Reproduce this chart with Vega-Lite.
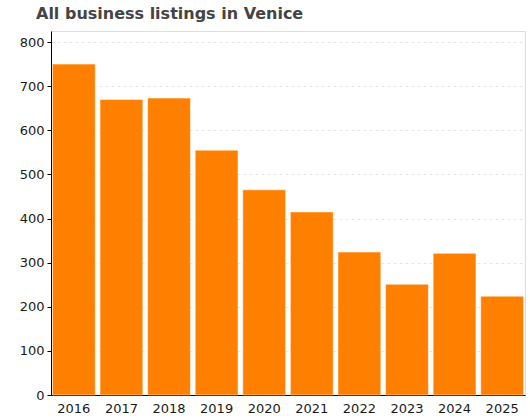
{
  "$schema": "https://vega.github.io/schema/vega-lite/v6.json",
  "autosize": "none",
  "width": 474,
  "height": 364,
  "padding": {"left": 51, "top": 31, "right": 5, "bottom": 25},
  "background": "white",
  "title": {
    "text": "All business listings in Venice",
    "anchor": "start",
    "frame": "group",
    "dx": -15,
    "offset": 9,
    "font": "DejaVu Sans",
    "fontSize": 16,
    "fontWeight": "bold",
    "color": "#444444"
  },
  "config": {
    "view": {"stroke": "#dddddd", "strokeWidth": 1},
    "axis": {
      "labelFont": "DejaVu Sans",
      "labelFontSize": 13,
      "labelColor": "#1a1a1a",
      "domainColor": "#000000",
      "tickColor": "#000000",
      "title": null
    }
  },
  "data": {
    "values": [
      {"year": "2016", "count": 750},
      {"year": "2017", "count": 670},
      {"year": "2018", "count": 673},
      {"year": "2019", "count": 555},
      {"year": "2020", "count": 465},
      {"year": "2021", "count": 415},
      {"year": "2022", "count": 324},
      {"year": "2023", "count": 251},
      {"year": "2024", "count": 321},
      {"year": "2025", "count": 224}
    ]
  },
  "mark": {"type": "bar", "color": "#ff8000", "stroke": "#ffffff", "strokeOpacity": 0.5, "strokeWidth": 1},
  "encoding": {
    "x": {
      "field": "year",
      "type": "ordinal",
      "scale": {"paddingInner": 0.1, "paddingOuter": 0.03},
      "axis": {"labelAngle": 0, "ticks": false, "labelPadding": 7, "title": null, "domainWidth": 1}
    },
    "y": {
      "field": "count",
      "type": "quantitative",
      "scale": {"domain": [0, 825], "nice": false},
      "axis": {
        "values": [0, 100, 200, 300, 400, 500, 600, 700, 800],
        "tickSize": 4,
        "labelPadding": 3,
        "grid": true,
        "gridColor": "#e5e5e5",
        "gridDash": [3, 3],
        "title": null
      }
    }
  }
}
